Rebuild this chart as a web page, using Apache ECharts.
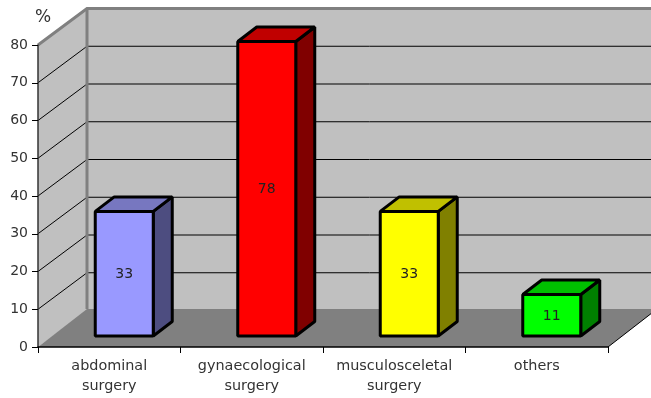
<!DOCTYPE html>
<html><head><meta charset="utf-8">
<style>html,body{margin:0;padding:0;background:#fff}#c{width:651px;height:398px}</style>
<script src="https://cdn.jsdelivr.net/npm/echarts@6/dist/echarts.min.js"></script>
</head><body><div id="c"></div>
<script>
const categories = ['abdominal\nsurgery','gynaecological\nsurgery','musculosceletal\nsurgery','others'];
const values = [33,78,33,11];
const frontColors = ['#9999ff','#ff0000','#ffff00','#00ff00'];
const topColors = ['#7777c0','#c00000','#c0c000','#00c000'];
const sideColors = ['#4d4d80','#800000','#808000','#008000'];
const yTicks = [10,20,30,40,50,60,70,80];
const DX = 49, DY = 36.5, FLOOR_DY = 38, BAR_HALF = 29, BAR_DX = 19, BAR_DY = 14.5, OFF_X = 15, OFF_Y = 11;
const FONT = '"DejaVu Sans"';
const chart = echarts.init(document.getElementById('c'), null, {renderer:'canvas'});
chart.setOption({
  animation:false,
  backgroundColor:'#fff',
  grid:{left:38,right:43,top:45,bottom:51},
  graphic:[{type:'text',left:35,top:9,style:{text:'%',font:'17px '+FONT,fill:'#333'}}],
  xAxis:{type:'category',data:categories,
    axisLine:{show:true,lineStyle:{color:'#000',width:1.5}},
    axisTick:{show:true,length:6,interval:0,alignWithLabel:false,lineStyle:{color:'#000'}},
    axisLabel:{color:'#333',fontFamily:FONT,fontSize:14.4,lineHeight:20,margin:9,interval:0},
    z:5},
  yAxis:{type:'value',min:0,max:80,interval:10,splitLine:{show:false},
    axisLine:{show:true,lineStyle:{color:'#333',width:1.5}},
    axisTick:{show:true,length:6,lineStyle:{color:'#000'}},
    axisLabel:{color:'#333',fontFamily:FONT,fontSize:14,margin:10},
    z:5},
  series:[
    {type:'custom',coordinateSystem:'cartesian2d',data:[0],z:1,silent:true,
     renderItem(p,api){
       const g=p.coordSys, x0=g.x, x1=g.x+g.width, yb=api.coord([0,0])[1], yt=api.coord([0,80])[1];
       const kids=[
         {type:'polygon',shape:{points:[[x0+DX,yt-DY],[x1+DX,yt-DY],[x1+DX,yb-DY],[x0+DX,yb-DY]]},style:{fill:'#c0c0c0'}},
         {type:'polygon',shape:{points:[[x0,yt],[x0+DX,yt-DY],[x0+DX,yb-DY],[x0,yb]]},style:{fill:'#c0c0c0'}}
       ];
       yTicks.slice(0,-1).forEach(v=>{
         const y=api.coord([0,v])[1];
         kids.push({type:'polyline',shape:{points:[[x0,y],[x0+DX,y-DY],[x1+DX,y-DY]]},style:{fill:'none',stroke:'#000',lineWidth:1}});
       });
       kids.push(
         {type:'polygon',shape:{points:[[x0,yb],[x0+DX,yb-FLOOR_DY],[x1+DX,yb-FLOOR_DY],[x1,yb]]},style:{fill:'#808080'}},
         {type:'polyline',shape:{points:[[x0,yt],[x0+DX,yt-DY],[x1+DX,yt-DY]]},style:{fill:'none',stroke:'#808080',lineWidth:3}},
         {type:'line',shape:{x1:x0+DX,y1:yt-DY,x2:x0+DX,y2:yb-FLOOR_DY},style:{stroke:'#808080',lineWidth:3}},
         {type:'line',shape:{x1:x1,y1:yb,x2:x1+DX,y2:yb-FLOOR_DY},style:{stroke:'#000',lineWidth:1}}
       );
       return {type:'group',children:kids};
     }},
    {type:'custom',coordinateSystem:'cartesian2d',z:3,silent:true,
     data:values.map((v,i)=>[i,v]),
     encode:{x:0,y:1},
     renderItem(p,api){
       const i=api.value(0), v=api.value(1);
       const cx=api.coord([i,0])[0]+OFF_X, b=api.coord([i,0])[1]-OFF_Y, t=api.coord([i,v])[1]-OFF_Y;
       const l=cx-BAR_HALF, r=cx+BAR_HALF;
       const stroke={stroke:'#000',lineWidth:3,lineJoin:'bevel'};
       return {type:'group',children:[
         {type:'polygon',shape:{points:[[r,t],[r+BAR_DX,t-BAR_DY],[r+BAR_DX,b-BAR_DY],[r,b]]},style:{fill:sideColors[i],...stroke}},
         {type:'polygon',shape:{points:[[l,t],[l+BAR_DX,t-BAR_DY],[r+BAR_DX,t-BAR_DY],[r,t]]},style:{fill:topColors[i],...stroke}},
         {type:'rect',shape:{x:l,y:t,width:r-l,height:b-t},style:{fill:frontColors[i],...stroke}},
         {type:'text',style:{x:cx,y:(t+b)/2+1,text:String(v),align:'center',verticalAlign:'middle',font:'14px '+FONT,fill:'#222'}}
       ]};
     }}
  ]
});
</script></body></html>
